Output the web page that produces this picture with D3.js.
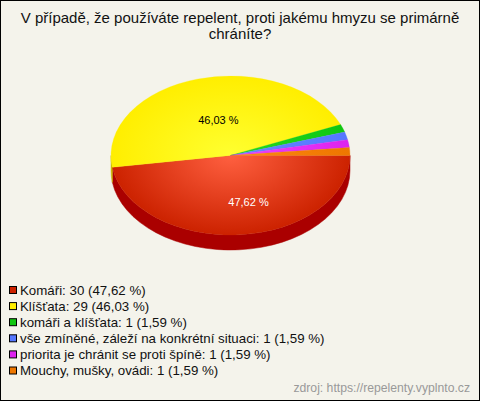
<!DOCTYPE html>
<html><head><meta charset="utf-8">
<script src="https://cdn.jsdelivr.net/npm/d3@7"></script>
<style>body{margin:0;background:#fff}svg{display:block}</style>
</head><body>
<script>
const titleLines = ["V případě, že používáte repelent, proti jakému hmyzu se primárně", "chráníte?"];
const categories = ["Komáři", "Klíšťata", "komáři a klíšťata", "vše zmíněné, záleží na konkrétní situaci", "priorita je chránit se proti špíně", "Mouchy, mušky, ovádi"];
const counts = [30, 29, 1, 1, 1, 1];
const percents = ["47,62", "46,03", "1,59", "1,59", "1,59", "1,59"];
const colors = ["#cc2200", "#ffee00", "#11c611", "#5577ff", "#dd22ee", "#ee7700"];
const innerColors = ["#ff6040", "#ffff30", "#22dd22", "#6688ff", "#ee44ff", "#ff8811"];
const sideColors = ["#aa0000", "#ccbb00", "#0a990a", "#3344cc", "#aa11bb", "#bb5500"];
const sourceText = "zdroj: https://repelenty.vyplnto.cz";

const W = 480, H = 401;
const svg = d3.select("body").append("svg").attr("width", W).attr("height", H);
svg.append("rect").attr("x", 0.5).attr("y", 0.5).attr("width", W - 1).attr("height", H - 1)
  .attr("fill", "#f4f3eb").attr("stroke", "#000");

svg.append("text").attr("x", 240).attr("y", 23).attr("text-anchor", "middle")
  .style("font-family", "Liberation Sans, Arial, sans-serif").style("font-size", "15px").attr("fill", "#111")
  .selectAll("tspan").data(titleLines).join("tspan").attr("x", 240).attr("dy", (d, i) => i ? 16 : 0).text(d => d);

const cx = 230.5, cy = 155.5, rx = 119.5, ry = 79.5, depth = 15;
const pie = d3.pie().sort(null).value(d => d).startAngle(Math.PI / 2).endAngle(Math.PI / 2 + 2 * Math.PI);
const arcs = pie(counts).map((a, i) => ({ ...a, i, t0: a.startAngle - Math.PI / 2, t1: a.endAngle - Math.PI / 2 }));
const px = t => cx + rx * Math.cos(t), py = t => cy + ry * Math.sin(t);

const defs = svg.append("defs");
arcs.forEach(a => {
  const g = defs.append("radialGradient").attr("id", "g" + a.i).attr("gradientUnits", "userSpaceOnUse")
    .attr("cx", 0).attr("cy", 0).attr("r", 1)
    .attr("gradientTransform", `translate(${cx},${cy}) scale(${rx},${ry})`);
  g.append("stop").attr("offset", 0).attr("stop-color", innerColors[a.i]);
  g.append("stop").attr("offset", 1).attr("stop-color", colors[a.i]);
});

// sides (front half only)
arcs.forEach(a => {
  const s = Math.max(a.t0, 0), e = Math.min(a.t1, Math.PI);
  if (e <= s) return;
  const p = `M${px(s)},${py(s)} A${rx},${ry} 0 0 1 ${px(e)},${py(e)} L${px(e)},${py(e) + depth} A${rx},${ry} 0 0 0 ${px(s)},${py(s) + depth} Z`;
  svg.append("path").attr("d", p).attr("fill", sideColors[a.i]).attr("stroke", sideColors[a.i]).attr("stroke-width", 0.5);
});
// top faces
arcs.forEach(a => {
  const large = (a.t1 - a.t0) > Math.PI ? 1 : 0;
  const p = `M${cx},${cy} L${px(a.t0)},${py(a.t0)} A${rx},${ry} 0 ${large} 1 ${px(a.t1)},${py(a.t1)} Z`;
  svg.append("path").attr("d", p).attr("fill", `url(#g${a.i})`).attr("stroke", colors[a.i]).attr("stroke-width", 0.3);
});
// labels
arcs.forEach(a => {
  if (counts[a.i] / d3.sum(counts) < 0.05) return;
  const m = (a.t0 + a.t1) / 2;
  svg.append("text").attr("x", cx + 11.5 + 0.73 * rx * Math.cos(m)).attr("y", cy + 4.8 + 0.526 * ry * Math.sin(m))
    .attr("text-anchor", "middle").attr("dominant-baseline", "central")
    .style("font-family", "Liberation Sans, Arial, sans-serif").style("font-size", "11px")
    .attr("fill", a.i === 0 ? "#fff" : "#000").text(percents[a.i] + " %");
});

// legend
const leg = svg.append("g");
categories.forEach((c, i) => {
  const y = 290 + i * 16.1;
  leg.append("rect").attr("x", 9.5).attr("y", y - 3.5).attr("width", 7).attr("height", 7)
    .attr("fill", colors[i]).attr("stroke", "#000");
  leg.append("text").attr("x", 20).attr("y", y).attr("dominant-baseline", "central")
    .style("font-family", "Liberation Sans, Arial, sans-serif").style("font-size", "13.3px").attr("fill", "#111")
    .text(`${c}: ${counts[i]} (${percents[i]} %)`);
});

svg.append("text").attr("x", 470).attr("y", 392).attr("text-anchor", "end")
  .style("font-family", "Liberation Sans, Arial, sans-serif").style("font-size", "12.2px").attr("fill", "#999")
  .text(sourceText);
</script>
</body></html>
